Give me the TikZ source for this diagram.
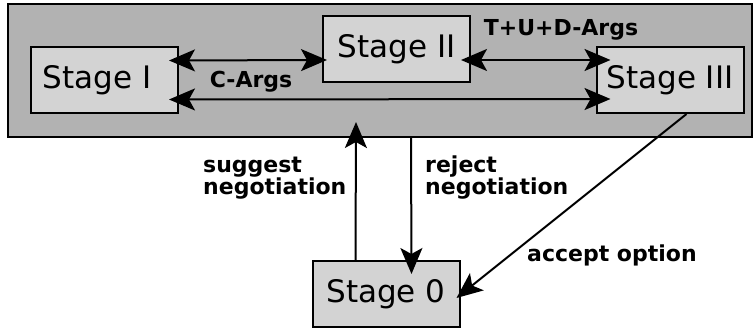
\documentclass[tikz,border=0pt]{standalone}
\usepackage{fontspec}
\setmainfont{DejaVu Sans}
\usetikzlibrary{arrows.meta,calc}
\definecolor{outerfill}{RGB}{178,178,178}
\definecolor{boxfill}{RGB}{211,211,211}
\tikzset{
  tip/.tip={Stealth[length=26pt, width=22pt, inset=6pt]},
  stagebox/.style={draw=black, line width=2pt, fill=boxfill, minimum width=147pt, minimum height=66pt, inner sep=0pt, font=\fontsize{31}{31}\selectfont},
  conn/.style={line width=2pt, -tip},
  dconn/.style={line width=2pt, tip-tip},
  lbl/.style={font=\fontsize{22}{22}\selectfont\bfseries, inner sep=0pt, align=left},
}
\begin{document}
\begin{tikzpicture}[x=1pt, y=-1pt]
\useasboundingbox (0,0) rectangle (754,331);
\node[draw=black, line width=2pt, fill=outerfill, minimum width=744pt, minimum height=133pt, inner sep=0pt] (outer) at (380,70.5) {};
\node[stagebox] (sI) at (104.5,80.5) {Stage I\kern15pt\relax};
\node[stagebox] (sII) at (396.5,49) {Stage II};
\node[stagebox] (sIII) at (670,80) {Stage III};
\node[stagebox] (s0) at (386,294) {Stage 0};
\draw[dconn] ($(sI.north east)+(-10,14)$) -- ($(sII.north west)+(5,45)$);
\draw[dconn] ($(sI.north east)+(-10,53)$) -- ($(sIII.north west)+(15,53)$);
\draw[dconn] ($(sII.north east)+(-10,45)$) -- ($(sIII.north west)+(15,14)$);
\draw[conn] ($(s0.north west)+(44,0)$) -- ($(outer.south west)+(349,-16)$);
\draw[conn] ($(outer.south west)+(404,0)$) -- ($(s0.north west)+(100,14)$);
\draw[conn] ($(sIII.south west)+(91,0)$) -- ($(s0.south east)+(-4,-30)$);
\node[lbl] (lc) at (251,82) {C-Args};
\node[lbl] (ltud) at (561,30) {T+U+D-Args};
\node[lbl, anchor=base west] (lsug) at (203,194.5) {suggest\\negotiation};
\node[lbl, anchor=base west] (lrej) at (425,194.5) {reject\\negotiation};
\node[lbl, anchor=base west] (lacc) at (527,261.7) {accept option};
\end{tikzpicture}
\end{document}
